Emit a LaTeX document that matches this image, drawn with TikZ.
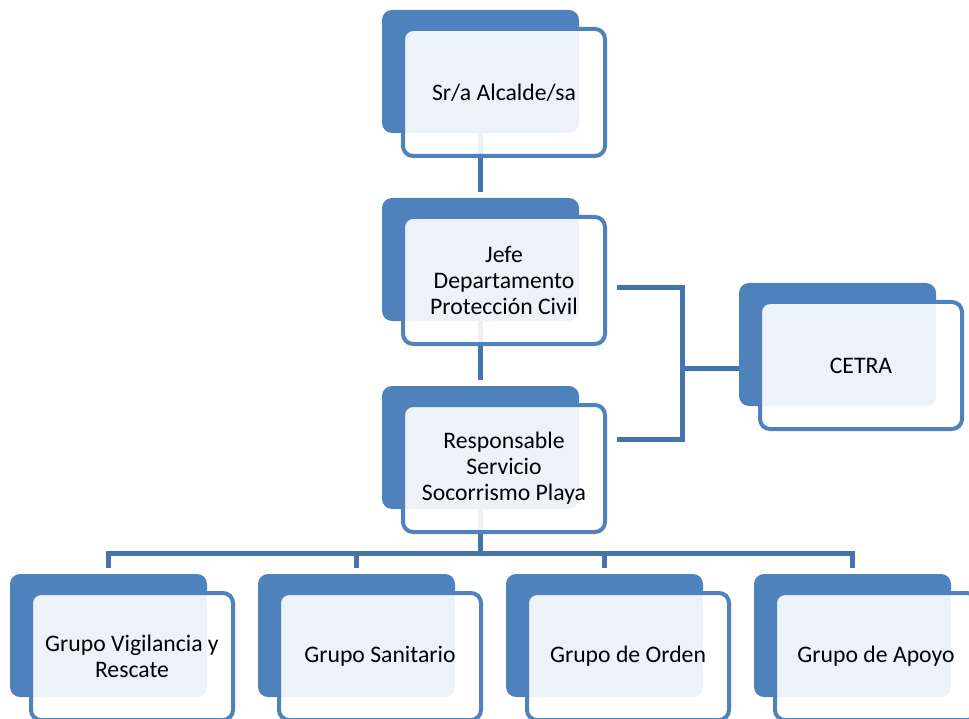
\documentclass[tikz,border=0pt]{standalone}
\usepackage{fontspec}
\setmainfont{Carlito}
\usepackage{tikz}
\usetikzlibrary{positioning,backgrounds}

\definecolor{boxblue}{RGB}{79,129,189}
\definecolor{lineblue}{RGB}{69,115,172}

\begin{document}
\begin{tikzpicture}[x=1pt,y=-1pt,
backnode/.style={rectangle, rounded corners=10pt, fill=boxblue, minimum width=197pt, minimum height=123pt, inner sep=0pt, outer sep=0pt, anchor=north west},
frontnode/.style={rectangle, rounded corners=10pt, draw=boxblue, line width=4pt, fill=white, fill opacity=0.9, text opacity=1, minimum width=202pt, minimum height=127pt, inner sep=2pt, align=center, font=\fontsize{23.7}{26}\selectfont},
conline/.style={lineblue, line width=5pt},
]
\useasboundingbox (0,0) rectangle (969,719);
\clip (0,0) rectangle (969,719);

%Nodes
\node[backnode]      (b1)       at (382,10)      {};
\node[backnode]      (b2)       [below=65pt of b1] {};
\node[backnode]      (b3)       [below=65pt of b2] {};
\node[backnode]      (b4)       at (739,283)     {};

\node[backnode]      (b5)       at (10,574)      {};
\node[backnode]      (b6)       [right=51pt of b5] {};
\node[backnode]      (b7)       [right=51pt of b6] {};
\node[backnode]      (b8)       [right=51pt of b7] {};

\node[frontnode]     (f1)       at ([xshift=23.5pt,yshift=-21pt]b1.center) {Sr/a Alcalde/sa};
\node[frontnode]     (f2)       at ([xshift=23.5pt,yshift=-21pt]b2.center) {Jefe\\Departamento\\Protección Civil};
\node[frontnode]     (f3)       at ([xshift=23.5pt,yshift=-21pt]b3.center) {Responsable\\Servicio\\Socorrismo Playa};
\node[frontnode]     (f4)       at ([xshift=23.5pt,yshift=-21pt]b4.center) {CETRA};

\node[frontnode]     (f5)       at ([xshift=23.5pt,yshift=-21pt]b5.center) {Grupo Vigilancia y\\Rescate};
\node[frontnode]     (f6)       at ([xshift=23.5pt,yshift=-21pt]b6.center) {Grupo Sanitario};
\node[frontnode]     (f7)       at ([xshift=23.5pt,yshift=-21pt]b7.center) {Grupo de Orden};
\node[frontnode]     (f8)       at ([xshift=23.5pt,yshift=-21pt]b8.center) {Grupo de Apoyo};

\coordinate (hub) at (682,368);

%Lines
\begin{scope}[on background layer]
\draw[conline] (b1.south) -- ([yshift=6pt]b2.north);
\draw[conline] (b2.south) -- ([yshift=6pt]b3.north);

\draw[conline] ([xshift=10pt,yshift=-7.5pt]f2.east) -| (hub) |- ([xshift=10pt,yshift=29.5pt]f3.east);
\draw[conline] (hub) -- (hub -| b4.west);

\draw[conline] (b3.south) -- ++(0,44) coordinate (bus);
\draw[conline] ([yshift=6pt]b5.north) |- (bus) -| ([yshift=6pt]b8.north);
\draw[conline] ([yshift=6pt]b6.north) -- (b6.north |- bus);
\draw[conline] ([yshift=6pt]b7.north) -- (b7.north |- bus);
\end{scope}

\end{tikzpicture}
\end{document}
